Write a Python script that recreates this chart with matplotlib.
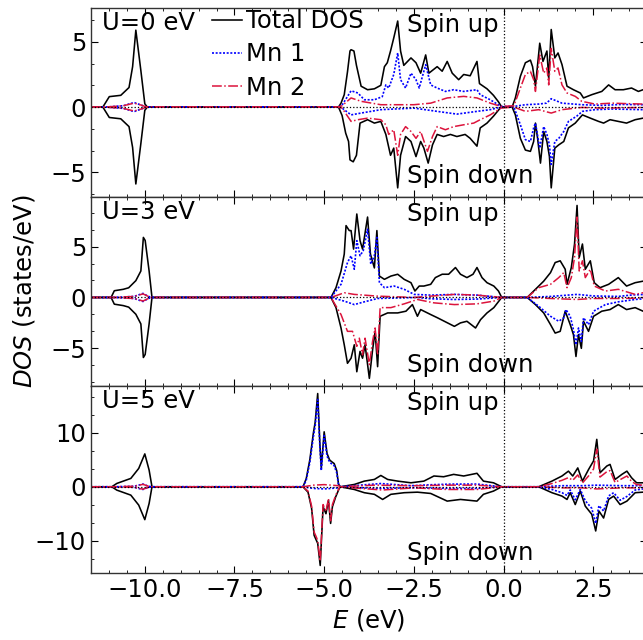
import numpy as np
import matplotlib
matplotlib.use("Agg")
import matplotlib.pyplot as plt
from matplotlib.ticker import MultipleLocator, AutoMinorLocator

plt.rcParams["font.family"] = ["DejaVu Sans"]
plt.rcParams["mathtext.fontset"] = "dejavusans"

# ---------------- DOS data (energy in eV, DOS in states/eV; spin down negative) ----------------
# U = 0 eV
U0_TOT_UP = [(-11.5, 0), (-11.17, 0), (-10.99, 0.8), (-10.67, 0.9), (-10.44, 1.5), (-10.34, 3.1), (-10.25, 5.9),
             (-10.11, 2.8), (-10.0, 0.25), (-9.93, 0),
             (-4.6, 0), (-4.53, 0.3), (-4.44, 0.95), (-4.35, 2.7), (-4.28, 4.3), (-4.25, 4.4), (-4.17, 4.3),
             (-4.1, 3.2), (-3.97, 1.6), (-3.79, 1.33), (-3.6, 1.4), (-3.42, 1.67), (-3.32, 3.1), (-3.24, 3.4),
             (-3.15, 4.3), (-3.06, 5.3), (-2.95, 6.6), (-2.87, 4.3), (-2.78, 3.2), (-2.58, 3.77), (-2.44, 3.4),
             (-2.31, 2.6), (-2.17, 4.0), (-2.08, 2.6), (-1.85, 3.1), (-1.71, 2.75), (-1.57, 3.5), (-1.43, 2.6),
             (-1.25, 2.1), (-1.11, 2.5), (-0.93, 2.4), (-0.74, 3.5), (-0.67, 1.8), (-0.46, 1.4), (-0.28, 0.9),
             (-0.14, 0.4), (-0.05, 0),
             (0.24, 0), (0.33, 0.7), (0.47, 2.36), (0.61, 3.4), (0.75, 3.6), (0.81, 3.1), (0.89, 1.6), (1.01, 4.9),
             (1.1, 3.5), (1.21, 4.3), (1.26, 2.2), (1.33, 5.95), (1.43, 3.77), (1.52, 4.15), (1.63, 3.26),
             (1.77, 1.6), (1.95, 1.33), (2.14, 1.08), (2.23, 0.7), (2.46, 0.95), (2.74, 1.2), (2.93, 1.7),
             (3.11, 1.33), (3.34, 1.33), (3.57, 1.46), (3.76, 1.2), (3.89, 1.33), (4.0, 1.3)]
U0_TOT_DN = [(-11.5, 0), (-11.17, 0), (-10.99, -0.8), (-10.67, -0.9), (-10.44, -1.5), (-10.34, -3.1), (-10.25, -5.9),
             (-10.11, -2.8), (-10.0, -0.25), (-9.93, 0),
             (-4.6, 0), (-4.5, -0.65), (-4.4, -2.0), (-4.32, -2.64), (-4.28, -4.05), (-4.19, -4.2), (-4.1, -3.7),
             (-4.0, -1.23), (-3.79, -0.97), (-3.6, -1.23), (-3.42, -1.1), (-3.28, -2.1), (-3.15, -3.7),
             (-3.06, -3.15), (-2.95, -6.2), (-2.87, -3.7), (-2.73, -2.26), (-2.58, -2.64), (-2.44, -3.8),
             (-2.31, -2.64), (-2.22, -3.15), (-2.1, -4.3), (-1.98, -2.9), (-1.85, -2.1), (-1.67, -2.26),
             (-1.48, -2.1), (-1.3, -2.26), (-1.07, -2.1), (-0.93, -2.4), (-0.74, -3.0), (-0.65, -1.6),
             (-0.46, -1.23), (-0.28, -0.7), (-0.07, 0),
             (0.24, 0), (0.33, -0.6), (0.47, -2.4), (0.61, -3.3), (0.75, -3.4), (0.84, -2.64), (0.89, -1.23),
             (0.95, -2.4), (1.03, -4.3), (1.12, -1.87), (1.21, -2.64), (1.28, -3.8), (1.33, -6.2), (1.43, -3.15),
             (1.54, -2.9), (1.68, -2.64), (1.81, -1.6), (2.0, -1.23), (2.2, -0.6), (2.42, -0.85), (2.65, -1.1),
             (2.79, -1.23), (2.97, -0.97), (3.2, -1.1), (3.43, -1.23), (3.67, -0.97), (3.89, -0.85), (4.0, -0.85)]
U0_MN1_UP = [(-11.5, 0), (-11.1, 0), (-10.6, 0.1), (-10.3, 0.35), (-10.1, 0.15), (-9.95, 0),
             (-4.6, 0), (-4.5, 0.15), (-4.25, 1.25), (-4.06, 1.08), (-3.88, 0.56), (-3.6, 0.56), (-3.38, 0.8),
             (-3.28, 1.7), (-3.2, 1.46), (-3.06, 2.5), (-2.95, 4.15), (-2.87, 2.1), (-2.73, 1.46), (-2.58, 2.6),
             (-2.44, 2.1), (-2.35, 1.46), (-2.17, 3.25), (-2.03, 1.7), (-1.85, 1.46), (-1.62, 1.2), (-1.39, 1.33),
             (-1.11, 1.2), (-0.74, 1.33), (-0.65, 0.95), (-0.37, 0.56), (-0.07, 0.05),
             (0.29, 0.05), (0.61, 0.18), (0.98, 0.23), (1.2, 0.3), (1.33, 0.64), (1.63, 0.3), (2.18, 0.18),
             (2.74, 0.13), (3.3, 0.2), (3.89, 0.18), (4.0, 0.18)]
U0_MN1_DN = [(-11.5, 0), (-11.1, 0), (-10.6, -0.1), (-10.3, -0.35), (-10.1, -0.15), (-9.95, 0),
             (-4.6, 0), (-4.5, -0.08), (-4.25, -0.6), (-3.97, -0.46), (-3.42, -0.2), (-2.5, -0.08), (-1.85, -0.33),
             (-1.3, -0.54), (-0.74, -0.33), (-0.37, -0.2), (-0.07, 0),
             (0.29, 0), (0.47, -1.36), (0.61, -2.5), (0.75, -2.64), (0.84, -1.6), (0.89, -1.23), (1.01, -3.15),
             (1.12, -1.5), (1.21, -2.1), (1.28, -2.9), (1.33, -4.4), (1.43, -2.64), (1.54, -2.4), (1.68, -1.87),
             (1.81, -1.1), (2.04, -0.7), (2.2, -0.33), (2.55, -0.2), (3.02, -0.15), (3.89, -0.2), (4.0, -0.2)]
U0_MN2_UP = [(-11.5, 0), (-11.1, 0), (-10.6, 0.1), (-10.3, 0.3), (-10.1, 0.15), (-9.95, 0),
             (-4.6, 0), (-4.5, 0.1), (-4.25, 0.7), (-3.97, 0.44), (-3.42, 0.18), (-2.5, 0.18), (-2.03, 0.3),
             (-1.57, 0.7), (-1.11, 0.82), (-0.74, 0.7), (-0.37, 0.3), (-0.07, 0.05),
             (0.29, 0.1), (0.47, 1.46), (0.61, 2.5), (0.75, 2.74), (0.84, 2.1), (0.89, 1.2), (1.01, 4.0),
             (1.12, 2.6), (1.21, 3.0), (1.26, 1.7), (1.33, 4.5), (1.43, 2.74), (1.52, 3.0), (1.63, 1.7),
             (1.77, 1.08), (2.0, 0.82), (2.18, 0.44), (2.55, 0.23), (3.02, 0.3), (3.48, 0.26), (3.89, 0.23),
             (4.0, 0.23)]
U0_MN2_DN = [(-11.5, 0), (-11.1, 0), (-10.6, -0.1), (-10.3, -0.3), (-10.1, -0.15), (-9.95, 0),
             (-4.6, 0), (-4.5, -0.08), (-4.25, -1.1), (-4.06, -0.97), (-3.79, -0.85), (-3.42, -0.97),
             (-3.28, -1.36), (-3.2, -2.1), (-3.06, -1.74), (-2.95, -3.7), (-2.87, -2.1), (-2.73, -1.5),
             (-2.58, -1.87), (-2.44, -2.4), (-2.31, -1.87), (-2.12, -3.4), (-1.98, -2.26), (-1.85, -1.5),
             (-1.62, -1.74), (-1.39, -1.5), (-1.11, -1.36), (-0.83, -1.23), (-0.65, -0.97), (-0.37, -0.6),
             (-0.07, -0.08),
             (0.29, 0), (0.61, -0.33), (0.98, -0.2), (1.33, -0.46), (1.63, -0.2), (2.18, -0.03), (2.74, -0.08),
             (3.89, -0.03), (4.0, -0.03)]

# U = 3 eV
U3_TOT_UP = [(-11.5, 0), (-10.94, 0), (-10.85, 0.66), (-10.6, 0.8), (-10.45, 0.95), (-10.25, 1.65), (-10.11, 2.6),
             (-10.04, 5.9), (-9.99, 5.6), (-9.88, 2.6), (-9.8, 0),
             (-4.81, 0), (-4.67, 0.96), (-4.53, 2.6), (-4.44, 4.26), (-4.39, 7.06), (-4.3, 6.57), (-4.25, 6.57),
             (-4.18, 4.75), (-4.09, 8.2), (-4.0, 5.58), (-3.93, 4.75), (-3.79, 7.9), (-3.71, 4.26), (-3.6, 2.9),
             (-3.53, 6.57), (-3.46, 2.1), (-3.32, 1.78), (-3.14, 2.1), (-2.95, 2.28), (-2.77, 1.78), (-2.58, 1.45),
             (-2.47, 0.63), (-2.35, 1.12), (-2.22, 1.12), (-2.03, 1.29), (-1.9, 1.95), (-1.71, 2.28),
             (-1.53, 2.28), (-1.34, 2.94), (-1.2, 2.28), (-1.02, 1.95), (-0.85, 2.28), (-0.74, 2.94),
             (-0.6, 1.95), (-0.46, 1.45), (-0.27, 1.12), (-0.14, 0.63), (-0.05, 0),
             (0.66, 0), (0.89, 0.8), (1.12, 1.6), (1.31, 2.44), (1.44, 3.43), (1.58, 3.6), (1.72, 2.77),
             (1.77, 1.29), (1.89, 2.94), (1.98, 5.25), (2.05, 9.04), (2.11, 3.93), (2.2, 5.25), (2.28, 2.77),
             (2.42, 3.6), (2.53, 1.45), (2.69, 0.96), (2.93, 1.29), (3.2, 1.95), (3.43, 1.12), (3.67, 1.45),
             (3.89, 1.6), (4.0, 1.6)]
U3_TOT_DN = [(-11.5, 0), (-10.94, 0), (-10.85, -0.66), (-10.6, -0.8), (-10.45, -0.95), (-10.25, -1.65),
             (-10.11, -2.6), (-10.04, -5.9), (-9.99, -5.6), (-9.88, -2.6), (-9.8, 0),
             (-4.81, 0), (-4.67, -1.0), (-4.53, -3.0), (-4.44, -4.65), (-4.35, -6.47), (-4.25, -5.97),
             (-4.16, -4.65), (-4.09, -7.3), (-4.0, -5.3), (-3.93, -5.97), (-3.86, -4.65), (-3.74, -7.95),
             (-3.65, -5.15), (-3.58, -3.33), (-3.51, -6.8), (-3.44, -1.85), (-3.23, -1.52), (-2.95, -1.52),
             (-2.72, -1.35), (-2.54, -0.7), (-2.4, -1.85), (-2.31, -1.19), (-2.03, -1.68), (-1.84, -2.0),
             (-1.65, -2.34), (-1.37, -2.84), (-1.2, -2.5), (-1.02, -2.34), (-0.78, -3.0), (-0.64, -2.18),
             (-0.46, -1.52), (-0.27, -1.0), (-0.05, 0),
             (0.66, 0), (0.89, -0.7), (1.12, -1.52), (1.31, -2.67), (1.44, -3.5), (1.58, -3.33), (1.72, -1.35),
             (1.86, -2.67), (1.95, -3.66), (2.02, -5.8), (2.09, -3.66), (2.17, -5.0), (2.23, -2.34),
             (2.37, -3.33), (2.51, -1.85), (2.74, -1.35), (2.97, -1.19), (3.2, -0.7), (3.43, -1.19),
             (3.67, -1.0), (3.89, -1.35), (4.0, -1.35)]
U3_MN1_UP = [(-11.5, 0), (-10.9, 0), (-10.3, 0.1), (-10.05, 0.4), (-9.9, 0.1), (-9.8, 0),
             (-4.81, 0), (-4.53, 1.29), (-4.35, 3.43), (-4.25, 4.1), (-4.16, 2.77), (-4.09, 5.58), (-4.0, 4.1),
             (-3.91, 4.6), (-3.79, 6.7), (-3.7, 3.27), (-3.6, 4.1), (-3.53, 5.9), (-3.46, 1.45), (-3.32, 0.96),
             (-3.05, 1.12), (-2.77, 0.8), (-2.49, 0.3), (-2.03, 0.23), (-1.37, 0.3), (-0.74, 0.23), (-0.05, 0),
             (0.66, 0), (1.31, 0.1), (2.05, 0.3), (2.5, 0.15), (3.2, 0.1), (3.6, 0.25), (4.0, 0.3)]
U3_MN1_DN = [(-11.5, 0), (-10.9, 0), (-10.3, -0.1), (-10.05, -0.4), (-9.9, -0.1), (-9.8, 0),
             (-4.81, 0), (-4.44, -0.36), (-4.16, -0.7), (-3.88, -0.43), (-3.51, -0.1), (-2.4, 0), (-2.03, -0.13),
             (-1.37, -0.2), (-0.74, -0.16), (-0.05, 0),
             (0.66, 0), (0.98, -0.86), (1.31, -1.85), (1.54, -2.34), (1.68, -2.0), (1.74, -1.19), (1.86, -1.85),
             (1.95, -3.17), (2.02, -4.65), (2.09, -3.0), (2.17, -4.32), (2.23, -2.0), (2.37, -2.67),
             (2.51, -1.35), (2.84, -0.7), (3.2, -0.43), (3.67, -0.2), (4.0, -0.1)]
U3_MN2_UP = [(-11.5, 0), (-10.9, 0), (-10.3, 0.1), (-10.05, 0.35), (-9.9, 0.1), (-9.8, 0),
             (-4.81, 0), (-4.44, 0.46), (-4.16, 0.3), (-3.51, 0.13), (-2.49, 0), (-2.03, 0.13), (-1.37, 0.3),
             (-0.74, 0.23), (-0.05, 0),
             (0.66, 0), (0.98, 0.96), (1.31, 1.29), (1.54, 1.95), (1.68, 2.44), (1.77, 0.96), (1.89, 1.95),
             (1.98, 3.93), (2.05, 7.9), (2.11, 2.6), (2.2, 3.6), (2.28, 1.95), (2.42, 2.77), (2.53, 1.12),
             (2.84, 0.63), (3.2, 0.8), (3.67, 0.3), (3.89, 0.46), (4.0, 0.46)]
U3_MN2_DN = [(-11.5, 0), (-10.9, 0), (-10.3, -0.1), (-10.05, -0.35), (-9.9, -0.1), (-9.8, 0),
             (-4.81, 0), (-4.53, -1.68), (-4.35, -3.33), (-4.21, -3.33), (-4.09, -4.8), (-4.02, -4.0),
             (-3.93, -5.64), (-3.86, -4.0), (-3.74, -6.6), (-3.65, -4.3), (-3.58, -3.0), (-3.51, -5.64),
             (-3.44, -1.0), (-3.14, -1.0), (-2.77, -0.63), (-2.4, -0.2), (-1.94, -0.53), (-1.37, -0.7),
             (-0.74, -0.63), (-0.27, -0.36), (-0.05, 0),
             (0.66, 0), (1.31, -0.1), (2.05, -0.2), (2.5, -0.1), (3.2, -0.1), (4.0, -0.05)]

# U = 5 eV
U5_TOT_UP = [(-11.5, 0), (-10.92, 0), (-10.78, 0.62), (-10.39, 1.55), (-10.17, 3.4), (-10.0, 6.1), (-9.88, 3.1),
             (-9.8, 0),
             (-5.59, 0), (-5.5, 1.5), (-5.4, 5.0), (-5.3, 10.0), (-5.25, 12.0), (-5.18, 17.3), (-5.12, 8.0),
             (-5.08, 3.5), (-5.0, 10.2), (-4.92, 6.2), (-4.85, 5.0), (-4.8, 4.7), (-4.72, 4.3), (-4.65, 3.0),
             (-4.6, 0.5), (-4.55, 0),
             (-4.16, 0.43), (-3.88, 1.05), (-3.6, 1.36), (-3.42, 2.1), (-3.23, 1.36), (-2.95, 1.05),
             (-2.58, 0.74), (-2.22, 1.05), (-1.94, 2.0), (-1.67, 1.86), (-1.39, 2.3), (-1.11, 2.0),
             (-0.74, 2.5), (-0.56, 1.05), (-0.28, 0.74), (-0.05, 0),
             (0.98, 0), (1.35, 1.05), (1.63, 2.0), (1.81, 2.9), (1.93, 2.0), (2.07, 3.5), (2.2, 1.05),
             (2.37, 3.2), (2.51, 4.8), (2.6, 8.8), (2.69, 2.6), (2.88, 3.85), (2.97, 4.15), (3.11, 1.36),
             (3.3, 2.3), (3.44, 2.9), (3.57, 1.67), (3.71, 0.74), (3.89, 0.74), (4.0, 0.74)]
U5_TOT_DN = [(-11.5, 0), (-10.92, 0), (-10.78, -0.62), (-10.39, -1.55), (-10.17, -3.4), (-10.0, -6.1),
             (-9.88, -3.1), (-9.8, 0),
             (-5.59, 0), (-5.45, -1.0), (-5.35, -4.0), (-5.28, -9.0), (-5.22, -9.9), (-5.18, -10.5),
             (-5.11, -14.6), (-5.03, -3.7), (-4.95, -5.0), (-4.88, -2.5), (-4.82, -6.8), (-4.77, -3.7),
             (-4.68, -1.9), (-4.58, -0.3), (-4.55, 0),
             (-4.16, -0.5), (-3.88, -1.1), (-3.6, -1.4), (-3.37, -2.35), (-3.14, -1.4), (-2.77, -1.1),
             (-2.4, -1.0), (-2.03, -1.24), (-1.57, -2.66), (-1.2, -2.35), (-0.74, -2.66), (-0.56, -1.4),
             (-0.28, -0.8), (-0.05, 0),
             (0.98, 0), (1.35, -1.1), (1.63, -1.73), (1.77, -2.35), (1.86, -1.1), (2.0, -3.3), (2.14, -0.8),
             (2.28, -3.6), (2.46, -5.1), (2.57, -8.2), (2.66, -4.5), (2.79, -5.8), (2.93, -2.35), (3.07, -1.73),
             (3.25, -3.3), (3.44, -2.66), (3.67, -1.1), (3.89, -1.0), (4.0, -1.0)]
U5_MN1_UP = [(-11.5, 0), (-10.9, 0), (-10.3, 0.1), (-10.05, 0.5), (-9.9, 0.1), (-9.8, 0),
             (-5.59, 0), (-5.5, 1.2), (-5.4, 4.5), (-5.3, 9.3), (-5.25, 11.3), (-5.18, 16.2), (-5.12, 7.5),
             (-5.08, 3.0), (-5.0, 9.5), (-4.92, 5.7), (-4.85, 4.6), (-4.8, 4.3), (-4.72, 3.9), (-4.65, 2.6),
             (-4.6, 0.4), (-4.55, 0), (-4.0, 0.3), (-3.42, 0.6), (-2.58, 0.2), (-1.94, 0.4), (-1.39, 0.5),
             (-0.74, 0.5), (-0.05, 0),
             (0.98, 0), (1.63, 0.2), (2.2, 0.2), (2.6, 0.3), (3.3, 0.2), (4.0, 0.2)]
U5_MN1_DN = [(-11.5, 0), (-10.9, 0), (-10.3, -0.1), (-10.05, -0.5), (-9.9, -0.1), (-9.8, 0),
             (-5.59, 0), (-5.3, -0.3), (-5.0, -0.4), (-4.6, -0.2), (-4.55, 0), (-3.6, -0.3), (-2.5, -0.2),
             (-1.5, -0.3), (-0.74, -0.3), (-0.05, 0),
             (0.98, 0), (1.35, -0.5), (1.63, -1.1), (1.77, -1.6), (1.86, -0.6), (2.0, -2.4), (2.14, -0.5),
             (2.28, -2.6), (2.46, -4.0), (2.57, -6.8), (2.66, -3.5), (2.79, -4.5), (2.93, -1.7), (3.07, -1.1),
             (3.25, -2.5), (3.44, -1.8), (3.67, -0.6), (3.89, -0.4), (4.0, -0.4)]
U5_MN2_UP = [(-11.5, 0), (-10.9, 0), (-10.3, 0.1), (-10.05, 0.45), (-9.9, 0.1), (-9.8, 0),
             (-5.59, 0), (-5.3, 0.3), (-5.0, 0.4), (-4.6, 0.2), (-4.55, 0), (-3.6, 0.3), (-2.5, 0.2),
             (-1.5, 0.3), (-0.74, 0.3), (-0.05, 0),
             (0.98, 0), (1.35, 0.6), (1.63, 1.2), (1.81, 1.7), (1.93, 1.2), (2.07, 2.2), (2.2, 0.7), (2.37, 2.0),
             (2.51, 3.3), (2.6, 7.0), (2.69, 1.8), (2.88, 2.8), (2.97, 3.0), (3.11, 0.8), (3.3, 1.5),
             (3.44, 2.0), (3.57, 1.0), (3.71, 0.4), (3.89, 0.3), (4.0, 0.3)]
U5_MN2_DN = [(-11.5, 0), (-10.9, 0), (-10.3, -0.1), (-10.05, -0.45), (-9.9, -0.1), (-9.8, 0),
             (-5.59, 0), (-5.45, -0.8), (-5.35, -3.6), (-5.28, -8.4), (-5.22, -9.3), (-5.18, -10.0),
             (-5.11, -13.8), (-5.03, -3.3), (-4.95, -4.6), (-4.88, -2.2), (-4.82, -6.3), (-4.77, -3.3),
             (-4.68, -1.6), (-4.58, -0.2), (-4.55, 0), (-4.0, -0.3), (-3.37, -0.6), (-2.5, -0.2),
             (-1.57, -0.5), (-0.74, -0.5), (-0.05, 0),
             (0.98, 0), (1.63, -0.2), (2.2, -0.2), (2.6, -0.4), (3.3, -0.2), (4.0, -0.2)]

U_LABELS = ["U=0 eV", "U=3 eV", "U=5 eV"]
Y_LIMITS = [(-6.9, 7.6), (-8.7, 9.87), (-16.0, 18.7)]
Y_MAJOR = [5, 5, 10]
E_LIMITS = (-11.5, 4.0)

PANELS = [
    (U0_TOT_UP, U0_TOT_DN, U0_MN1_UP, U0_MN1_DN, U0_MN2_UP, U0_MN2_DN),
    (U3_TOT_UP, U3_TOT_DN, U3_MN1_UP, U3_MN1_DN, U3_MN2_UP, U3_MN2_DN),
    (U5_TOT_UP, U5_TOT_DN, U5_MN1_UP, U5_MN1_DN, U5_MN2_UP, U5_MN2_DN),
]


def unpack(points):
    e, d = zip(*points)
    return np.asarray(e), np.asarray(d)


FS = 17.5
fig = plt.figure(figsize=(6.43, 6.40), dpi=100)

left, width = 91 / 643, (647 - 91) / 643
bands = [(8, 197), (197, 386), (386, 573)]

styles = {
    "tot": dict(color="black", lw=1.15, ls="-"),
    "mn1": dict(color="blue", lw=1.2, ls=(0, (1.2, 1.0))),
    "mn2": dict(color="crimson", lw=1.1, ls="-."),
}

axes = []
for i, (top_px, bot_px) in enumerate(bands):
    ax = fig.add_axes([left, 1 - bot_px / 640, width, (bot_px - top_px) / 640],
                      sharex=axes[0] if axes else None)
    axes.append(ax)
    tot_up, tot_dn, mn1_up, mn1_dn, mn2_up, mn2_dn = PANELS[i]

    handles = []
    for key, up, dn, name in (("tot", tot_up, tot_dn, "Total DOS"),
                              ("mn1", mn1_up, mn1_dn, "Mn 1"),
                              ("mn2", mn2_up, mn2_dn, "Mn 2")):
        e, d = unpack(up)
        h, = ax.plot(e, d, label=name, **styles[key])
        e, d = unpack(dn)
        ax.plot(e, d, **styles[key])
        handles.append(h)

    ax.axhline(0, color="black", ls=":", lw=0.9)
    ax.axvline(0, color="black", ls=":", lw=0.9)

    ax.set_xlim(*E_LIMITS)
    ax.set_ylim(*Y_LIMITS[i])
    ax.xaxis.set_major_locator(MultipleLocator(2.5))
    ax.xaxis.set_minor_locator(MultipleLocator(0.5))
    ax.yaxis.set_major_locator(MultipleLocator(Y_MAJOR[i]))
    ax.yaxis.set_minor_locator(AutoMinorLocator(3))
    ax.tick_params(which="both", direction="in", top=True, right=True, labelsize=FS)
    ax.tick_params(which="major", length=5)
    ax.tick_params(which="minor", length=2.5)
    for sp in ax.spines.values():
        sp.set_linewidth(1.0)
        sp.set_color("#333333")

    ax.text(0.02, 0.985, U_LABELS[i], transform=ax.transAxes, ha="left", va="top", fontsize=FS)
    ax.text(0.568, 0.975, "Spin up", transform=ax.transAxes, ha="left", va="top", fontsize=FS)
    ax.text(0.568, 0.045, "Spin down", transform=ax.transAxes, ha="left", va="bottom", fontsize=FS)

    if i < 2:
        ax.tick_params(labelbottom=False)
    if i == 0:
        ax.legend(handles=handles, loc="upper left", bbox_to_anchor=(0.208, 1.02),
                  frameon=False, fontsize=FS, handlelength=1.25, handletextpad=0.15,
                  labelspacing=0.38, borderpad=0.2, borderaxespad=0.0)

axes[2].set_xlabel("$E$ (eV)", fontsize=FS, labelpad=4)
fig.text(0.037, 0.5 * ((1 - 197 / 640) + (1 - 386 / 640)), "$DOS$ (states/eV)", rotation=90,
         ha="center", va="center", fontsize=FS)

fig.savefig("out.png", dpi=100)
